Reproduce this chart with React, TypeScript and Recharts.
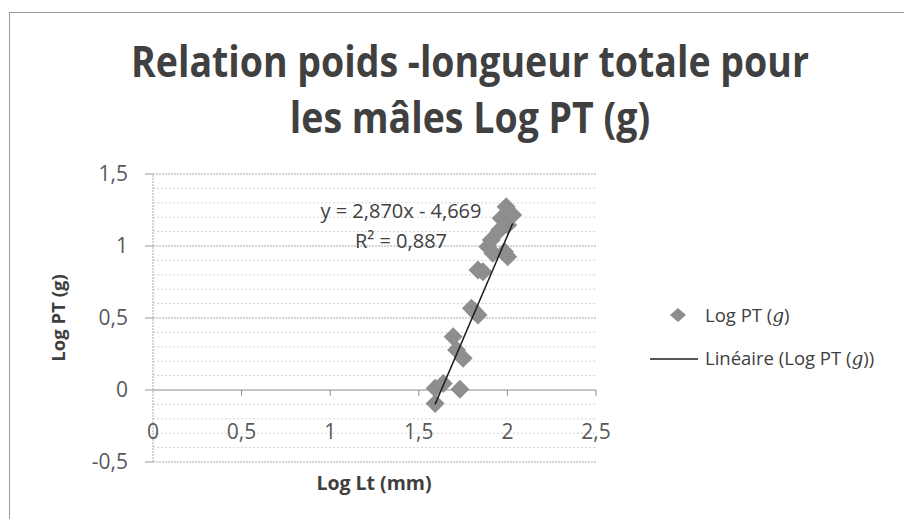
import React from "react";
import {
  ScatterChart,
  Scatter,
  XAxis,
  YAxis,
  CartesianGrid,
  ReferenceLine,
} from "recharts";

// Log Lt (mm) / Log PT (g), males
const logLt = [
  1.592, 1.592, 1.638, 1.732, 1.713, 1.75, 1.694, 1.797, 1.834, 1.816, 1.834, 1.862,
  1.89, 1.909, 1.918, 1.956, 2.002, 1.984, 2.002, 1.965, 2.03, 1.993,
];
const logPt = [
  -0.093, 0.012, 0.046, 0.005, 0.278, 0.22, 0.37, 0.567, 0.521, 0.545, 0.833, 0.822,
  0.995, 1.042, 0.949, 1.111, 0.926, 0.96, 1.146, 1.192, 1.215, 1.273,
];

// linear trend y = 2,870x - 4,669, drawn over the data range
const trendX = [1.592, 2.03];
const trendY = [-0.1, 1.157];

const xTicks = [0, 0.5, 1, 1.5, 2, 2.5];
const yMajor = [-0.5, 0, 0.5, 1, 1.5];
const yMinor = [
  -0.4, -0.3, -0.2, -0.1, 0.1, 0.2, 0.3, 0.4, 0.6, 0.7, 0.8, 0.9, 1.1, 1.2, 1.3, 1.4,
];

const points = logLt.map((x, i) => ({ x, y: logPt[i] }));
const trend = trendX.map((x, i) => ({ x, y: trendY[i] }));

const FONT = "'Open Sans', 'DejaVu Sans', sans-serif";
const TEXT = "#404040";
const AXIS = "#595959";
const MARKER = "#8e8e8e";

const fmt = (v: number) => String(v).replace(".", ",");

function Diamond(props: any) {
  const { cx, cy } = props;
  const r = 9.5;
  return (
    <polygon
      points={`${cx},${cy - r} ${cx + r},${cy} ${cx},${cy + r} ${cx - r},${cy}`}
      fill={MARKER}
    />
  );
}

function XTick(props: any) {
  const { x, payload } = props;
  return (
    <text x={x} y={439} textAnchor="middle" fontSize={21} fill={AXIS} fontFamily={FONT}>
      {fmt(payload.value)}
    </text>
  );
}

export default function App() {
  return (
    <div style={{ position: "absolute", left: 0, top: 0, width: 904, height: 519, background: "#fff" }}>
      <div
        style={{
          position: "absolute",
          left: 9,
          top: 12,
          right: 0,
          bottom: 0,
          borderTop: "1.5px solid #9a9a9a",
          borderLeft: "1.5px solid #9a9a9a",
        }}
      />
      <ScatterChart
        width={904}
        height={519}
        margin={{ top: 174, right: 308, bottom: 27, left: 0 }}
        style={{ position: "absolute", left: 0, top: 0 }}
      >
        <CartesianGrid
          horizontalValues={yMinor}
          vertical={false}
          stroke="#d4d4d4"
          strokeDasharray="2 2"
        />
        {yMajor.map((v) => (
          <ReferenceLine key={v} y={v} stroke={v === 0 ? "#8a8a8a" : "#a8a8a8"} strokeDasharray={v === 0 ? undefined : "2 1"} />
        ))}
        <ReferenceLine x={0} stroke="#a8a8a8" strokeDasharray="2 1" />
        {xTicks.slice(1).map((v) => (
          <ReferenceLine
            key={"t" + v}
            segment={[
              { x: v, y: 0 },
              { x: v, y: -0.04 },
            ]}
            stroke="#8a8a8a"
          />
        ))}
        <XAxis
          type="number"
          dataKey="x"
          domain={[0, 2.5]}
          ticks={xTicks}
          axisLine={false}
          tickLine={false}
          tick={<XTick />}
          height={30}
          interval={0}
        />
        <YAxis
          type="number"
          dataKey="y"
          domain={[-0.5, 1.5]}
          ticks={yMajor}
          width={153}
          axisLine={false}
          tickSize={8}
          tickLine={{ stroke: "#9a9a9a" }}
          tickMargin={17}
          tickFormatter={fmt}
          tick={{ fontSize: 21, fill: AXIS, fontFamily: FONT }}
          interval={0}
        />
        <Scatter
          name="Log PT (g)"
          data={points}
          shape={<Diamond />}
          isAnimationActive={false}
        />
        <Scatter
          name="Linéaire (Log PT (g))"
          data={trend}
          line={{ stroke: "#1e1e1e", strokeWidth: 1.5 }}
          shape={() => <g />}
          isAnimationActive={false}
        />
      </ScatterChart>
      <svg
        width={904}
        height={519}
        style={{ position: "absolute", left: 0, top: 0, pointerEvents: "none" }}
        fontFamily={FONT}
      >
        <g transform="translate(470,77) scale(1,1.15)">
          <text x={0} y={0} textAnchor="middle" fontSize={37.5} fontWeight="bold" fill={TEXT}>
            Relation poids -longueur totale pour
          </text>
        </g>
        <g transform="translate(470,133) scale(1,1.15)">
          <text x={0} y={0} textAnchor="middle" fontSize={37.5} fontWeight="bold" fill={TEXT}>
            les mâles Log PT (g)
          </text>
        </g>
        <text x={401} y={218} textAnchor="middle" fontSize={20} fill={TEXT}>
          y = 2,870x - 4,669
        </text>
        <text x={401} y={248} textAnchor="middle" fontSize={20} fill={TEXT}>
          R² = 0,887
        </text>
        <text
          x={0}
          y={0}
          transform="translate(65,318) rotate(-90)"
          textAnchor="middle"
          fontSize={18.5}
          fontWeight="bold"
          fill={TEXT}
        >
          Log PT (g)
        </text>
        <text x={374} y={490} textAnchor="middle" fontSize={19.5} fontWeight="bold" fill={TEXT}>
          Log Lt (mm)
        </text>
        <polygon points="678,308 686,315 678,322 670,315" fill={MARKER} />
        <text x={705} y={322} fontSize={18.5} fill={TEXT}>
          Log PT (<tspan fontStyle="italic" fontFamily="'DejaVu Serif', serif">g</tspan>)
        </text>
        <line x1={650} y1={359} x2={698} y2={359} stroke="#1e1e1e" strokeWidth={1.5} />
        <text x={705} y={365} fontSize={18.5} fill={TEXT}>
          Linéaire (Log PT (<tspan fontStyle="italic" fontFamily="'DejaVu Serif', serif">g</tspan>))
        </text>
      </svg>
    </div>
  );
}
